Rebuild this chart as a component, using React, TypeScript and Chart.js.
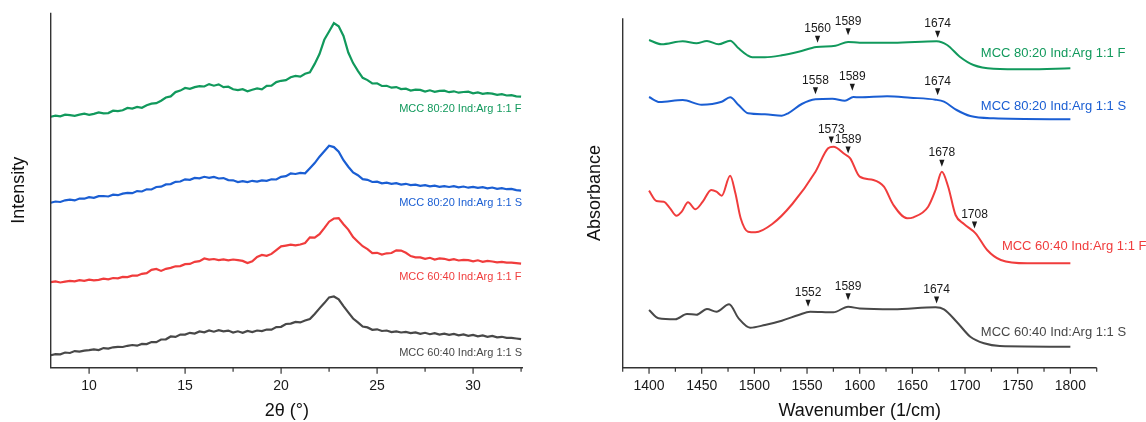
import React, { useEffect, useRef } from 'react';
import { Chart, registerables } from 'chart.js';

Chart.register(...registerables);

// ---------------- XRD (left panel) ----------------
const XRD_THETA = [
  8, 8.25, 8.5, 8.75, 9, 9.25, 9.5, 9.75, 10, 10.25, 10.5, 10.75,
  11, 11.25, 11.5, 11.75, 12, 12.25, 12.5, 12.75, 13, 13.25, 13.5, 13.75,
  14, 14.25, 14.5, 14.75, 15, 15.25, 15.5, 15.75, 16, 16.25, 16.5, 16.75,
  17, 17.25, 17.5, 17.75, 18, 18.25, 18.5, 18.75, 19, 19.25, 19.5, 19.75,
  20, 20.25, 20.5, 20.75, 21, 21.25, 21.5, 21.75, 22, 22.25, 22.5, 22.75,
  23, 23.25, 23.5, 23.75, 24, 24.25, 24.5, 24.75, 25, 25.25, 25.5, 25.75,
  26, 26.25, 26.5, 26.75, 27, 27.25, 27.5, 27.75, 28, 28.25, 28.5, 28.75,
  29, 29.25, 29.5, 29.75, 30, 30.25, 30.5, 30.75, 31, 31.25, 31.5, 31.75,
  32, 32.25, 32.5,
];

const XRD_8020_F = [
  251.0, 252.1, 251.3, 253.0, 252.6, 251.9, 253.1, 254.0, 252.9, 253.8, 255.2, 254.4,
  254.6, 257.0, 256.6, 257.4, 259.8, 259.1, 260.8, 259.9, 262.4, 264.0, 264.5, 267.0,
  270.2, 271.3, 275.6, 277.1, 279.7, 278.9, 280.6, 281.6, 281.2, 283.6, 282.0, 283.3,
  280.6, 281.0, 278.4, 277.6, 278.5, 276.4, 278.0, 279.3, 278.4, 281.8, 282.0, 285.6,
  286.9, 287.6, 290.4, 291.8, 291.1, 293.9, 295.4, 303.8, 313.6, 327.9, 336.2, 344.6,
  341.4, 331.8, 315.2, 304.6, 296.8, 289.9, 287.6, 284.2, 284.4, 281.7, 281.9, 280.0,
  280.6, 278.6, 279.0, 277.2, 278.1, 277.8, 276.2, 277.4, 275.9, 276.9, 277.0, 275.5,
  276.4, 275.0, 275.7, 276.1, 274.3, 275.2, 273.9, 274.6, 274.1, 272.8, 273.6, 272.2,
  272.5, 271.4, 271.0,
];

const XRD_8020_S = [
  165.0, 166.2, 165.7, 167.4, 168.1, 167.3, 169.2, 169.0, 170.6, 169.9, 171.5, 171.7,
  171.2, 173.0, 172.5, 174.1, 174.8, 174.5, 176.6, 176.2, 178.4, 178.2, 180.7, 181.0,
  183.3, 183.6, 185.9, 186.2, 188.4, 187.9, 189.8, 189.3, 190.9, 189.8, 190.8, 189.2,
  189.6, 187.6, 187.4, 185.7, 186.6, 185.6, 186.9, 186.1, 187.3, 186.8, 188.4, 188.2,
  190.9, 191.6, 194.2, 193.7, 194.8, 194.4, 199.5, 204.6, 211.0, 216.5, 222.0, 220.6,
  216.0, 207.5, 201.0, 195.2, 192.5, 188.6, 187.9, 185.7, 186.1, 184.4, 185.1, 183.9,
  184.6, 183.1, 183.9, 182.6, 183.1, 181.9, 182.5, 181.3, 182.0, 180.9, 181.6, 180.7,
  181.5, 180.4, 181.2, 180.0, 180.9, 179.9, 180.6, 179.4, 180.2, 178.9, 179.6, 178.5,
  178.8, 177.6, 177.0,
];

const XRD_6040_F = [
  85.5, 86.3, 85.2, 86.0, 86.9, 86.4, 87.6, 86.8, 88.1, 87.4, 87.9, 89.0,
  88.3, 89.7, 89.4, 90.8, 90.6, 92.1, 92.0, 93.9, 94.6, 97.8, 98.7, 96.8,
  98.9, 99.8, 101.4, 101.6, 103.5, 103.8, 105.9, 106.6, 109.2, 108.1, 108.7, 107.6,
  108.3, 107.4, 108.2, 107.5, 106.8, 104.6, 106.3, 110.8, 112.7, 111.9, 113.8, 117.6,
  121.3, 122.1, 123.0, 122.4, 123.2, 124.7, 130.3, 130.0, 133.6, 139.5, 146.0, 149.2,
  149.6, 143.5, 138.1, 130.6, 126.0, 121.5, 118.6, 114.6, 114.9, 113.2, 114.4, 114.7,
  117.4, 117.1, 114.9, 111.6, 110.4, 110.3, 108.8, 109.9, 108.2, 109.3, 108.9, 107.7,
  108.6, 107.2, 107.9, 107.6, 106.3, 107.4, 105.9, 106.9, 106.2, 105.3, 105.8, 105.0,
  105.1, 104.5, 104.0,
];

const XRD_6040_S = [
  12.5, 13.6, 13.4, 15.2, 14.7, 16.6, 16.0, 17.0, 17.6, 18.4, 17.7, 19.6,
  19.1, 20.4, 20.8, 20.7, 21.9, 22.7, 22.0, 23.8, 23.6, 25.7, 25.6, 28.2,
  28.4, 31.2, 30.8, 33.2, 33.1, 34.9, 34.1, 36.2, 35.4, 37.2, 36.0, 37.6,
  36.3, 37.1, 35.2, 36.4, 34.9, 36.7, 35.6, 37.2, 36.6, 38.2, 38.0, 40.6,
  40.9, 43.7, 44.1, 45.8, 45.3, 47.2, 48.7, 53.8, 59.3, 64.6, 70.3, 71.2,
  68.4, 61.6, 55.3, 49.2, 45.4, 41.2, 40.3, 37.9, 38.4, 36.7, 37.2, 35.6,
  36.3, 35.2, 35.8, 34.6, 35.3, 33.8, 34.9, 33.5, 34.6, 33.1, 34.1, 32.8,
  33.7, 32.3, 33.2, 31.8, 32.8, 31.3, 32.2, 30.8, 31.7, 30.4, 30.9, 29.8,
  29.9, 29.2, 28.5,
];

// ---------------- FTIR (right panel) ----------------
const FTIR_8020_F_X = [1400, 1412, 1432, 1445, 1455, 1466, 1477, 1485, 1493, 1498, 1510, 1526, 1542, 1559, 1577, 1589, 1600, 1632, 1673, 1683, 1695, 1708, 1727, 1759, 1800];
const FTIR_8020_F_Y = [327.7, 323.4, 326.4, 324.4, 326.7, 323.4, 327, 319.4, 312.7, 310.4, 310.4, 312.4, 316, 320.7, 322, 325.7, 325, 325, 326.4, 322.7, 311, 302.7, 299, 298.4, 299.4];

const FTIR_8020_S_X = [1400, 1410, 1432, 1450, 1469, 1477, 1485, 1494, 1510, 1526, 1532, 1545, 1558, 1574, 1586, 1594, 1600, 1626, 1648, 1672, 1680, 1692, 1705, 1727, 1800];
const FTIR_8020_S_Y = [270.7, 265.7, 267.7, 263, 266, 270.4, 262.7, 254.4, 253.4, 252, 254.4, 263.7, 268.4, 269, 267, 270.7, 270.4, 271.4, 270, 268, 266, 257.7, 251.7, 249.4, 248.4];

const FTIR_6040_F_X = [1400, 1407, 1414, 1420, 1426, 1431, 1437, 1444, 1451, 1459, 1464, 1469, 1477, 1482, 1487, 1494, 1501, 1517, 1536, 1558, 1570, 1575, 1586, 1591, 1600, 1613, 1623, 1632, 1645, 1651, 1665, 1672, 1678, 1684, 1691, 1699, 1710, 1721, 1734, 1759, 1800];
const FTIR_6040_F_Y = [177, 166.7, 166, 159.4, 152, 156, 165.4, 158.4, 166, 177.7, 176, 172, 192, 174.4, 149.4, 136, 135.4, 143.7, 163.7, 196, 219.4, 221, 213.4, 209.4, 191, 187.7, 181, 162.7, 149.4, 150.4, 161, 177.7, 196, 181, 152.7, 143.7, 134.4, 117.7, 107.7, 104.4, 104.4];

const FTIR_6040_S_X = [1400, 1409, 1425, 1436, 1445, 1455, 1464, 1476, 1485, 1496, 1510, 1526, 1542, 1553, 1575, 1589, 1600, 1632, 1672, 1680, 1692, 1705, 1718, 1733, 1800];
const FTIR_6040_S_Y = [57.7, 49.4, 48.4, 53.7, 53, 58.7, 56, 63.4, 49.4, 40, 42.7, 47, 52.7, 56, 55.4, 61, 59.2, 58.4, 60.4, 58.4, 46, 31, 24.4, 21.7, 21];

// Peak markers (series index, wavenumber position, label, level of the marker)
const PEAK_SERIES = [0, 0, 0, 1, 1, 1, 2, 2, 2, 2, 3, 3, 3];
const PEAK_POS = [1560, 1589, 1674, 1558, 1593, 1674, 1573, 1589, 1678, 1709, 1551, 1589, 1673];
const PEAK_TEXT = ['1560', '1589', '1674', '1558', '1589', '1674', '1573', '1589', '1678', '1708', '1552', '1589', '1674'];
const PEAK_LEVEL = [328.4, 336, 333.4, 277, 280.4, 276, 227.7, 217.7, 204.4, 142.7, 64.4, 71, 67.7];

const SERIES_NAMES = [
  'MCC 80:20 Ind:Arg 1:1 F',
  'MCC 80:20 Ind:Arg 1:1 S',
  'MCC 60:40 Ind:Arg 1:1 F',
  'MCC 60:40 Ind:Arg 1:1 S',
];

// label anchors (data coordinates)
const XRD_LABEL_X = [26.15, 26.15, 26.15, 26.15];
const XRD_LABEL_Y = [258.4, 164.4, 91, 15];
const FTIR_LABEL_X = [1715, 1715, 1735, 1715];
const FTIR_LABEL_Y = [314.4, 261.7, 121, 35];

// ---------------- styles ----------------
const COLORS = ['#11995c', '#1a5ed3', '#f03c3c', '#484848'];
const FONT = '"Liberation Sans", Arial, Helvetica, sans-serif';
const AXIS_COLOR = '#333333';
const TEXT_COLOR = '#1a1a1a';

function zip(xs: number[], ys: number[]) {
  return xs.map((x, i) => ({ x, y: ys[i] }));
}

function overlayPlugin(opts: {
  id: string;
  major: number;
  labelX: number[];
  labelY: number[];
  labelSize: number;
  peaks: boolean;
}) {
  return {
    id: opts.id,
    afterDraw(chart: any) {
      const ctx = chart.ctx as CanvasRenderingContext2D;
      const xs = chart.scales.x;
      const ys = chart.scales.y;
      const a = chart.chartArea;
      ctx.save();
      ctx.strokeStyle = AXIS_COLOR;
      ctx.lineWidth = 1.4;
      ctx.beginPath();
      ctx.moveTo(a.left, a.top);
      ctx.lineTo(a.left, a.bottom);
      ctx.lineTo(a.right, a.bottom);
      ctx.stroke();
      ctx.lineWidth = 1.2;
      xs.ticks.forEach((t: any) => {
        const px = xs.getPixelForValue(t.value);
        const r = Math.abs(t.value / opts.major - Math.round(t.value / opts.major));
        const major = r < 1e-6;
        ctx.beginPath();
        ctx.moveTo(px, a.bottom);
        ctx.lineTo(px, a.bottom + (major ? 6 : 4));
        ctx.stroke();
      });
      ctx.font = opts.labelSize + 'px ' + FONT;
      ctx.textBaseline = 'middle';
      ctx.textAlign = 'left';
      SERIES_NAMES.forEach((name, i) => {
        ctx.fillStyle = COLORS[i];
        ctx.fillText(name, xs.getPixelForValue(opts.labelX[i]), ys.getPixelForValue(opts.labelY[i]));
      });
      if (opts.peaks) {
        ctx.font = '12px ' + FONT;
        ctx.textAlign = 'center';
        ctx.fillStyle = TEXT_COLOR;
        PEAK_POS.forEach((p, i) => {
          const px = xs.getPixelForValue(p);
          const py = ys.getPixelForValue(PEAK_LEVEL[i]);
          ctx.beginPath();
          ctx.moveTo(px - 2.6, py - 3.5);
          ctx.lineTo(px + 2.6, py - 3.5);
          ctx.lineTo(px, py + 3.5);
          ctx.closePath();
          ctx.fill();
          ctx.fillText(PEAK_TEXT[i], px, py - 10.5);
        });
      }
      ctx.restore();
    },
  };
}

function baseOptions(p: {
  xmin: number; xmax: number; ymax: number; step: number; major: number;
  xTitle: string; yTitle: string; yWidth: number; top: number; right: number; yTitlePad: number;
}) {
  return {
    responsive: false,
    animation: false as const,
    devicePixelRatio: 1,
    layout: { padding: { top: p.top, right: p.right, left: 0, bottom: 0 } },
    plugins: { legend: { display: false }, tooltip: { enabled: false } },
    elements: { point: { radius: 0 } },
    scales: {
      x: {
        type: 'linear' as const,
        min: p.xmin,
        max: p.xmax,
        grid: { display: false },
        border: { display: false },
        ticks: {
          stepSize: p.step,
          includeBounds: false,
          autoSkip: false,
          maxRotation: 0,
          padding: 2,
          color: TEXT_COLOR,
          font: { size: 14, family: FONT },
          callback: (v: any) => {
            const n = Number(v);
            return Math.abs(n / p.major - Math.round(n / p.major)) < 1e-6 ? String(n) : '';
          },
        },
        title: {
          display: true,
          text: p.xTitle,
          color: '#111111',
          font: { size: 18, family: FONT },
          padding: { top: 0, bottom: 0 },
        },
        afterFit: (s: any) => { s.height = 422 - 367.7; },
      },
      y: {
        type: 'linear' as const,
        min: 0,
        max: p.ymax,
        grid: { display: false },
        border: { display: false },
        ticks: { display: false },
        title: {
          display: true,
          text: p.yTitle,
          color: '#111111',
          font: { size: 18, family: FONT },
          padding: { top: p.yTitlePad, bottom: 0 },
        },
        afterFit: (s: any) => { s.width = p.yWidth; },
      },
    },
  };
}

export default function App() {
  const leftRef = useRef<HTMLCanvasElement | null>(null);
  const rightRef = useRef<HTMLCanvasElement | null>(null);

  useEffect(() => {
    const xrdSeries = [XRD_8020_F, XRD_8020_S, XRD_6040_F, XRD_6040_S];
    const left = new Chart(leftRef.current as HTMLCanvasElement, {
      type: 'line',
      data: {
        datasets: xrdSeries.map((s, i) => ({
          label: SERIES_NAMES[i],
          data: zip(XRD_THETA, s),
          borderColor: COLORS[i],
          borderWidth: 2.2,
          tension: 0,
          pointRadius: 0,
          fill: false,
        })),
      },
      options: baseOptions({
        xmin: 8, xmax: 32.6, ymax: 355, step: 2.5, major: 5,
        xTitle: '2θ (°)', yTitle: 'Intensity', yWidth: 50.7, top: 12.7, right: 565 - 523, yTitlePad: 8.2,
      }) as any,
      plugins: [overlayPlugin({ id: 'xrdOverlay', major: 5, labelX: XRD_LABEL_X, labelY: XRD_LABEL_Y, labelSize: 11, peaks: false })],
    });

    const ftirX = [FTIR_8020_F_X, FTIR_8020_S_X, FTIR_6040_F_X, FTIR_6040_S_X];
    const ftirY = [FTIR_8020_F_Y, FTIR_8020_S_Y, FTIR_6040_F_Y, FTIR_6040_S_Y];
    const right = new Chart(rightRef.current as HTMLCanvasElement, {
      type: 'line',
      data: {
        datasets: ftirX.map((xs, i) => ({
          label: SERIES_NAMES[i],
          data: zip(xs, ftirY[i]),
          borderColor: COLORS[i],
          borderWidth: 2,
          cubicInterpolationMode: 'monotone' as const,
          pointRadius: 0,
          fill: false,
        })),
      },
      options: baseOptions({
        xmin: 1375, xmax: 1825, ymax: 349.4, step: 25, major: 50,
        xTitle: 'Wavenumber (1/cm)', yTitle: 'Absorbance', yWidth: 622.7 - 565, top: 18.3, right: 1146 - 1096.7, yTitlePad: 19.2,
      }) as any,
      plugins: [overlayPlugin({ id: 'ftirOverlay', major: 50, labelX: FTIR_LABEL_X, labelY: FTIR_LABEL_Y, labelSize: 13, peaks: true })],
    });

    return () => {
      left.destroy();
      right.destroy();
    };
  }, []);

  return (
    <div style={{ position: 'fixed', left: 0, top: 0, width: 1146, height: 422, background: '#ffffff', overflow: 'hidden' }}>
      <canvas ref={leftRef} width={565} height={422} style={{ position: 'absolute', left: 0, top: 0, width: 565, height: 422 }} />
      <canvas ref={rightRef} width={581} height={422} style={{ position: 'absolute', left: 565, top: 0, width: 581, height: 422 }} />
    </div>
  );
}
